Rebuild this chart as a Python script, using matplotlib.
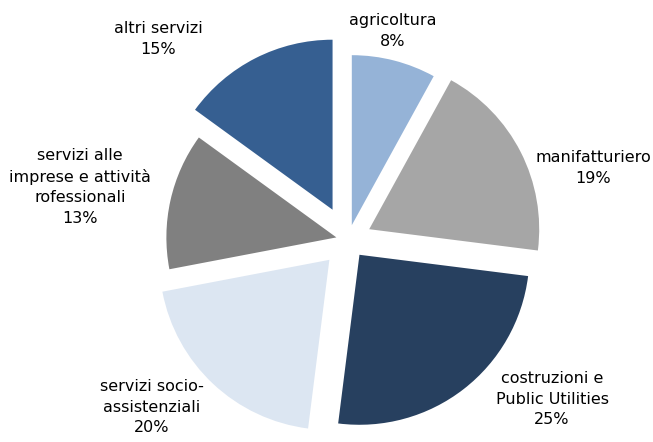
import matplotlib.pyplot as plt

# shares by sector (%), clockwise from the top
sectors = ['agricoltura', 'manifatturiero', 'costruzioni e\nPublic Utilities',
           'servizi socio-\nassistenziali',
           'servizi alle\nimprese e attività\nrofessionali', 'altri servizi']
shares = [8, 19, 25, 20, 13, 15]

colors = ['#95B3D7', '#A6A6A6', '#27405F', '#DCE6F2', '#808080', '#365F91']
explode = [0.09, 0.14, 0.11, 0.16, 0.07, 0.20]   # fraction of the radius

# label anchor points in pixel coordinates (y measured from the bottom)
label_xy = [(393, 411), (593, 274), (552, 43), (152, 35), (80, 255), (158, 403)]

R = 170
fig = plt.figure(figsize=(6.53, 4.42), dpi=100)
ax = fig.add_axes([0, 0, 1, 1])

# matplotlib's explode is an absolute offset, so scale it by the radius
ax.pie(shares, colors=colors, explode=[e * R for e in explode], startangle=90,
       counterclock=False, radius=R, center=(348, 202),
       wedgeprops={'linewidth': 0})

for name, val, (x, y) in zip(sectors, shares, label_xy):
    ax.text(x, y, f'{name}\n{val}%', ha='center', va='center',
            fontsize=11.5, color='black', linespacing=1.45)

ax.set_xlim(0, 653)
ax.set_ylim(0, 442)
ax.set_aspect('equal')
ax.axis('off')

plt.savefig('out.png', dpi=100)
